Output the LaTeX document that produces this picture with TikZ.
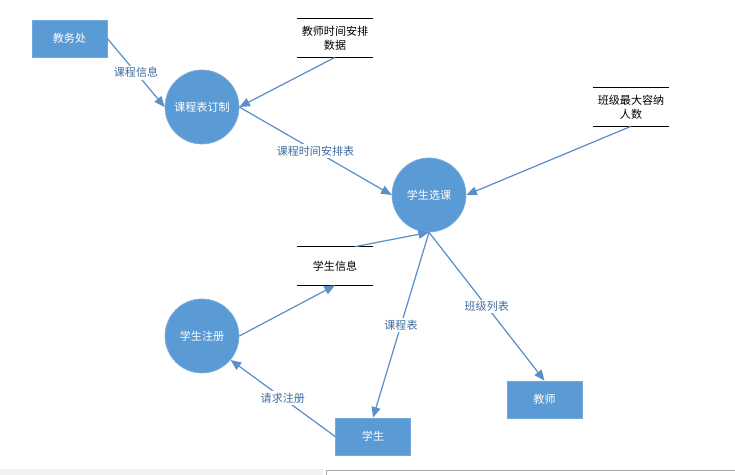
\documentclass[tikz,border=0pt]{standalone}
\usepackage{fontspec}
\setmainfont{Noto Sans CJK SC}
\usepackage{xcolor}
\usetikzlibrary{positioning, arrows.meta}

\definecolor{officeblue}{HTML}{5B9BD5}
\definecolor{linkblue}{HTML}{5A8FC8}
\definecolor{labelblue}{HTML}{3F6E9E}

\tikzset{
  proc/.style={circle, fill=officeblue, draw=officeblue!80, text=white, minimum size=1.48cm, inner sep=0pt},
  entity/.style={rectangle, fill=officeblue, draw=officeblue!85, text=white, minimum width=1.5cm, minimum height=0.74cm},
  datastore/.style={minimum width=1.52cm, minimum height=0.76cm, align=center, inner sep=0pt},
  flow/.style={-{Triangle[width=5pt,length=6pt]}, draw=linkblue, line width=0.7pt},
  lbl/.style={fill=white, text=labelblue, inner sep=1pt}
}

\begin{document}
\begin{tikzpicture}[x=0.02cm, y=-0.02cm, font=\fontsize{6.3pt}{8pt}\selectfont]

\useasboundingbox (0,0) rectangle (735,475);

% external entities
\node[entity] (jwc) at (69.5,38.5) {教务处};
\node[entity] (xs) at (373,436.5) {学生};
\node[entity] (js) at (544.5,399.5) {教师};

% processes
\node[proc] (kcb) at (202,107) {课程表订制};
\node[proc] (xsxk) at (429,195) {学生选课};
\node[proc] (xszc) at (202,336) {学生注册};

% data stores
\node[datastore] (jssj) at (335,38) {教师时间安排\\数据};
\node[datastore] (bjrs) at (631,107) {班级最大容纳\\人数};
\node[datastore] (xsxi) at (335,266) {学生信息};

\foreach \s in {jssj, bjrs, xsxi} {
  \draw[line width=0.7pt] (\s.north west) -- (\s.north east);
  \draw[line width=0.7pt] (\s.south west) -- (\s.south east);
}

% flows
\draw[flow] (jwc.east) -- node[lbl] {课程信息} (kcb.west);
\draw[flow] (jssj.south) -- (kcb.east);
\draw[flow] (kcb.east) -- node[lbl] {课程时间安排表} (xsxk.west);
\draw[flow] (bjrs.south) -- (xsxk.east);
\draw[flow] ([xshift=20*0.02cm]xsxi.north) -- (xsxk.south);
\draw[flow] (xszc.east) -- (xsxi.south);
\draw[flow] (xsxk.south) -- node[lbl] {课程表} (xs.north);
\draw[flow] (xsxk.south) -- node[lbl] {班级列表} (js.north);
\draw[flow] (xs.west) -- node[lbl] {请求注册} (xszc.-40);

% window edge
\fill[gray!10] (0,469) rectangle (323,475);
\draw[gray!70, line width=0.5pt] (326,475) -- (326,470.5) -- (735,470.5);

\end{tikzpicture}
\end{document}
